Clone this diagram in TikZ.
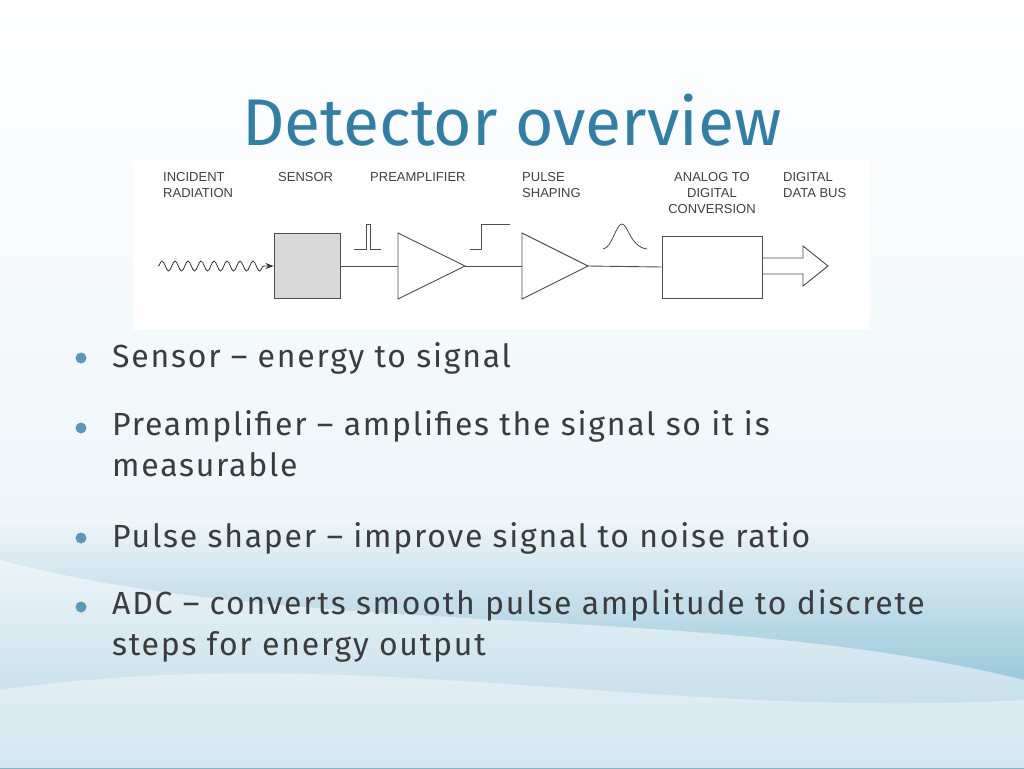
\documentclass[tikz,border=0pt]{standalone}
\usepackage{fontspec}
\setmainfont{Fira Sans}
\newfontfamily\labfont{Liberation Sans}
\newfontfamily\bulfont[LetterSpace=5.5]{Fira Sans}
\usepackage{xcolor}
\usetikzlibrary{decorations.pathmorphing,arrows.meta}
\definecolor{titleblue}{HTML}{2F7FA6}
\definecolor{bodygray}{HTML}{3C3C3C}
\definecolor{seablue}{HTML}{6FB0CC}
\definecolor{palesky}{HTML}{EEF6F9}
\tikzset{
  lab/.style={font=\labfont\fontsize{13}{16}\selectfont, anchor=north west, inner sep=0, align=left, text=black!75},
  blk/.style={draw=black!70, line width=0.9pt},
  bul/.style={anchor=west, inner sep=0, text=bodygray, font=\bulfont\fontsize{32}{41}\selectfont, align=left},
}
\begin{document}
\begin{tikzpicture}[x=1pt,y=-1pt]

\useasboundingbox (0,0) rectangle (1024,768);
\shade[top color=white, bottom color=palesky] (0,0) rectangle (1024,520);
\shade[top color=palesky, bottom color=seablue] (0,519) rectangle (1024,768);
\fill[white, opacity=0.5] (0,560) .. controls (300,640) and (700,600) .. (1024,680) -- (1024,768) -- (0,768) -- cycle;
\fill[white, opacity=0.4] (0,690) .. controls (350,640) and (650,720) .. (1024,700) -- (1024,768) -- (0,768) -- cycle;

\node[text=titleblue, font=\fontsize{66}{72}\selectfont] (title) at (512,120) {Detector overview};

% block diagram
\fill[white] (133,160) rectangle (870,330);

\node[lab] (lrad) at (163,172) {INCIDENT\\RADIATION};
\node[lab] (lsen) at (278,172) {SENSOR};
\node[lab] (lpre) at (370,172) {PREAMPLIFIER};
\node[lab] (lpul) at (522,172) {PULSE\\SHAPING};
\node[lab, align=center, anchor=north] (ladc) at (712,172) {ANALOG TO\\DIGITAL\\CONVERSION};
\node[lab] (lbus) at (783,172) {DIGITAL\\DATA BUS};

\coordinate (rin) at (158,266);
\node[blk, fill=black!15, minimum width=66, minimum height=65, inner sep=0] (sensor) at (307,266) {};
\node[blk, minimum width=100, minimum height=62, inner sep=0] (adc) at (712,267) {};
\coordinate (amp1) at (398,266);
\coordinate (amp2) at (522,266);

\draw[black!80, line width=0.8pt, decorate, decoration={snake, amplitude=5, segment length=13, post length=8}, -{Stealth[length=8pt]}] (rin) -- (sensor.west);
\draw[blk] (amp1) ++(0,-33) -- ++(67,33) -- ++(-67,33) -- cycle;
\draw[blk] (amp2) ++(0,-33) -- ++(66,33) -- ++(-66,33) -- cycle;
\draw[blk] (sensor.east) -- (amp1);
\draw[blk] (465,266) -- (amp2);
\draw[blk] (588,266) -- (adc.west);
\draw[blk] (adc.east |- 0,258) -- (803,258) -- (803,246) -- (828,266) -- (803,286) -- (803,274) -- (adc.east |- 0,274);

% pulse glyphs
\draw[black!70, line width=0.8pt] (354,249) -- (366,249) -- (366,224) -- (370,224) -- (370,249) -- (381,249);
\draw[black!70, line width=0.8pt] (470,249) -- (481,249) -- (481,224) -- (510,224);
\draw[black!70, line width=0.8pt] (603,249) .. controls (612,248) and (616,224) .. (622,224) .. controls (628,224) and (630,247) .. (647,249);

% bullets
\foreach \y in {358,428,538,607}
  \fill[titleblue!80] (81,\y) circle (5.5);
\node[bul] (b1) at (112,358) {Sensor – energy to signal};
\node[bul, anchor=north west] (b2) at (112,410) {Preamplifier – amplifies the signal so it is\\measurable};
\node[bul] (b3) at (112,538) {Pulse shaper – improve signal to noise ratio};
\node[bul, anchor=north west] (b4) at (112,589) {ADC – converts smooth pulse amplitude to discrete\\steps for energy output};

\end{tikzpicture}
\end{document}
